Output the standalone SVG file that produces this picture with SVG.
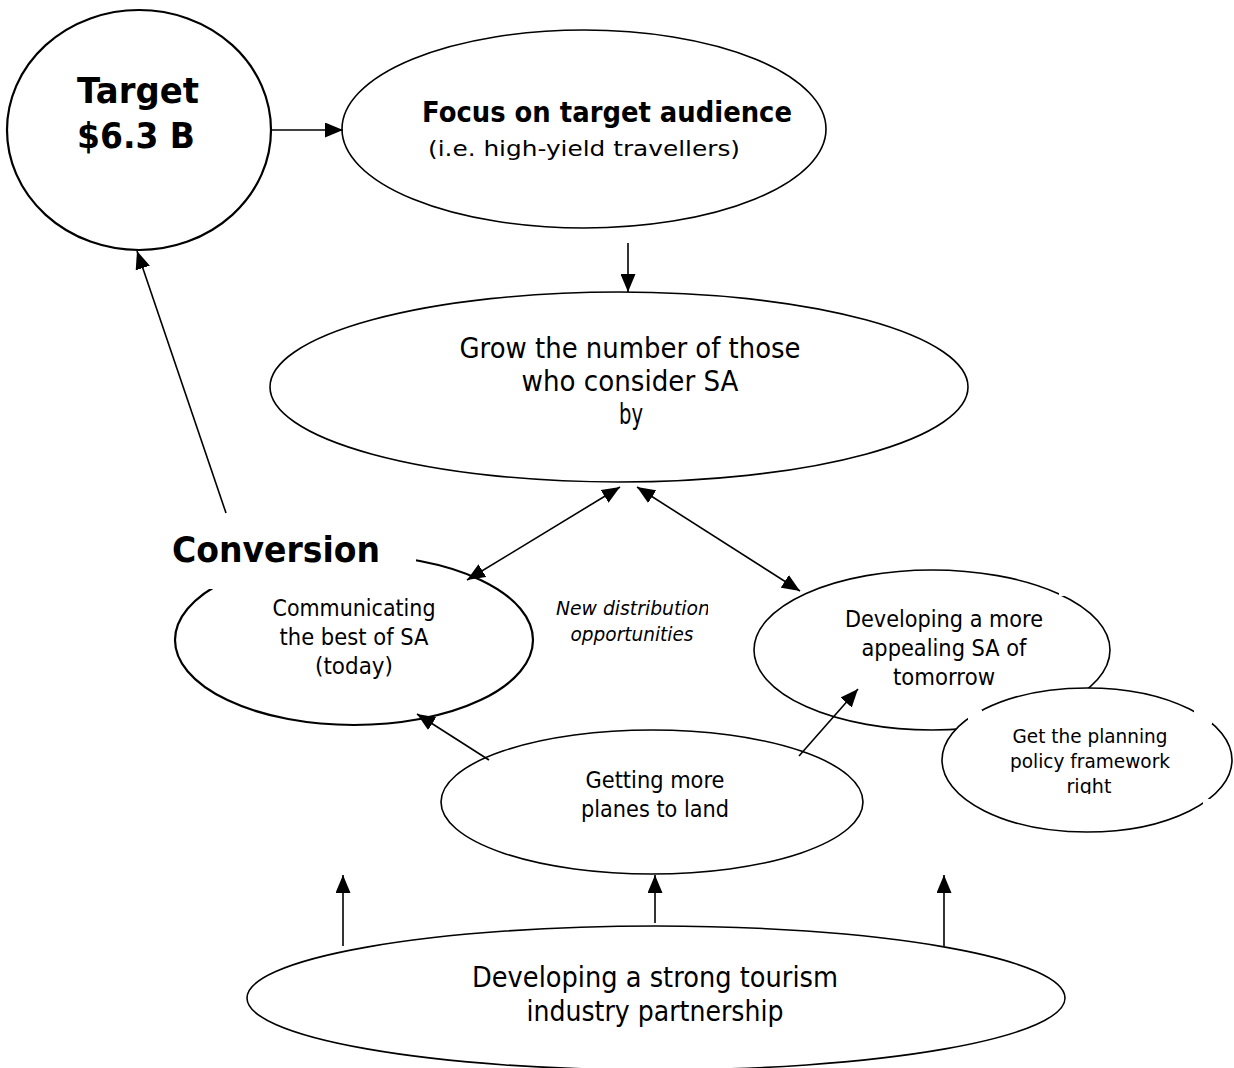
<svg xmlns="http://www.w3.org/2000/svg" width="1234" height="1068" viewBox="0 0 1234 1068">
<style>
.n{fill:#fff;stroke:#000;stroke-width:1.6}
.thick{stroke-width:2.2}
.c{fill:none;stroke:#000;stroke-width:1.6}
text{font-family:"DejaVu Sans","Liberation Sans",sans-serif;fill:#000;text-anchor:middle}
.b{font-weight:bold}
.i{font-style:italic}
</style>
<defs>
<marker id="ah" viewBox="0 0 18 15" refX="18" refY="7.5" markerWidth="18" markerHeight="15" markerUnits="userSpaceOnUse" orient="auto-start-reverse">
<path d="M0,0 L18,7.5 L0,15 Z" fill="#000"/>
</marker>
<clipPath id="clipRight"><rect x="1000" y="770" width="200" height="24"/></clipPath>
<clipPath id="clipNew"><rect x="540" y="590" width="168" height="60"/></clipPath>
</defs>
<rect width="1234" height="1068" fill="#fff"/>

<g id="target">
<ellipse class="n thick" cx="139" cy="130" rx="132" ry="120"/>
<text class="b" x="138" y="103" font-size="35" textLength="122" lengthAdjust="spacingAndGlyphs">Target</text>
<text class="b" x="136" y="148" font-size="35" textLength="118" lengthAdjust="spacingAndGlyphs">$6.3 B</text>
</g>

<g id="focus">
<ellipse class="n" cx="584" cy="129" rx="242" ry="99"/>
<text class="b" x="607" y="122" font-size="28" textLength="370" lengthAdjust="spacingAndGlyphs">Focus on target audience</text>
<text x="584" y="156" font-size="22" textLength="312" lengthAdjust="spacingAndGlyphs">(i.e. high-yield travellers)</text>
</g>

<g id="grow">
<ellipse class="n" cx="619" cy="387" rx="349" ry="95"/>
<text x="630" y="358" font-size="29" textLength="341" lengthAdjust="spacingAndGlyphs">Grow the number of those</text>
<text x="630" y="391" font-size="29" textLength="217" lengthAdjust="spacingAndGlyphs">who consider SA</text>
<text x="631" y="424" font-size="29" textLength="24" lengthAdjust="spacingAndGlyphs">by</text>
</g>

<g id="communicating">
<ellipse class="n thick" cx="354" cy="640" rx="179" ry="85"/>
<rect x="200" y="520" width="216" height="69" fill="#fff"/>
<text x="354" y="616" font-size="23" textLength="163" lengthAdjust="spacingAndGlyphs">Communicating</text>
<text x="354" y="645" font-size="23" textLength="149" lengthAdjust="spacingAndGlyphs">the best of SA</text>
<text x="354" y="674" font-size="23" textLength="78" lengthAdjust="spacingAndGlyphs">(today)</text>
</g>

<g id="conversion">
<text class="b" x="276" y="562" font-size="35" textLength="208" lengthAdjust="spacingAndGlyphs">Conversion</text>
</g>

<g id="distribution">
<g clip-path="url(#clipNew)">
<text class="i" x="633" y="615" font-size="20" textLength="154" lengthAdjust="spacingAndGlyphs">New distribution</text>
</g>
<text class="i" x="632" y="641" font-size="20" textLength="123" lengthAdjust="spacingAndGlyphs">opportunities</text>
</g>

<g id="developing">
<ellipse class="n" cx="932" cy="650" rx="178" ry="80"/>
<rect x="1059" y="588" width="6" height="8" fill="#fff"/>
<text x="944" y="627" font-size="23" textLength="198" lengthAdjust="spacingAndGlyphs">Developing a more</text>
<text x="944" y="656" font-size="23" textLength="165" lengthAdjust="spacingAndGlyphs">appealing SA of</text>
<text x="944" y="685" font-size="23" textLength="102" lengthAdjust="spacingAndGlyphs">tomorrow</text>
</g>

<g id="planning">
<ellipse class="n" cx="1087" cy="760" rx="145" ry="72"/>
<rect x="968" y="710" width="14" height="12" fill="#fff"/>
<rect x="1194" y="708" width="18" height="16" fill="#fff"/>
<rect x="1203" y="799" width="10" height="9" fill="#fff"/>
<text x="1090" y="743" font-size="20" textLength="155" lengthAdjust="spacingAndGlyphs">Get the planning</text>
<text x="1090" y="768" font-size="20" textLength="160" lengthAdjust="spacingAndGlyphs">policy framework</text>
<g clip-path="url(#clipRight)">
<text x="1089" y="793" font-size="20" textLength="45" lengthAdjust="spacingAndGlyphs">right</text>
</g>
</g>

<g id="getting">
<ellipse class="n" cx="652" cy="802" rx="211" ry="72"/>
<text x="655" y="788" font-size="23" textLength="139" lengthAdjust="spacingAndGlyphs">Getting more</text>
<text x="655" y="817" font-size="23" textLength="148" lengthAdjust="spacingAndGlyphs">planes to land</text>
</g>

<g id="partnership">
<ellipse class="n" cx="656" cy="998" rx="409" ry="72"/>
<text x="655" y="987" font-size="29" textLength="366" lengthAdjust="spacingAndGlyphs">Developing a strong tourism</text>
<text x="655" y="1021" font-size="29" textLength="257" lengthAdjust="spacingAndGlyphs">industry partnership</text>
</g>

<g id="connectors">
<line class="c" x1="271" y1="130" x2="343" y2="130" marker-end="url(#ah)"/>
<line class="c" x1="628" y1="243" x2="628" y2="292" marker-end="url(#ah)"/>
<line class="c" x1="467" y1="580" x2="620" y2="487" marker-start="url(#ah)" marker-end="url(#ah)"/>
<line class="c" x1="637" y1="487" x2="800" y2="591" marker-start="url(#ah)" marker-end="url(#ah)"/>
<line class="c" x1="226" y1="513" x2="137" y2="251" marker-end="url(#ah)"/>
<line class="c" x1="489" y1="760" x2="417" y2="714" marker-end="url(#ah)"/>
<line class="c" x1="799" y1="756" x2="858" y2="689" marker-end="url(#ah)"/>
<line class="c" x1="343" y1="946" x2="343" y2="875" marker-end="url(#ah)"/>
<line class="c" x1="655" y1="923" x2="655" y2="875" marker-end="url(#ah)"/>
<line class="c" x1="944" y1="946" x2="944" y2="875" marker-end="url(#ah)"/>
</g>
</svg>
